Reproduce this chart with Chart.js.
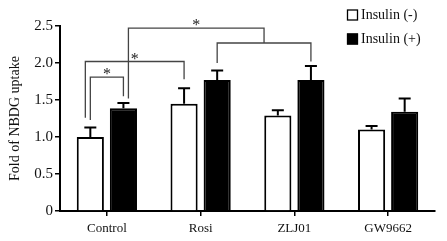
<!DOCTYPE html>
<html>
<head>
<meta charset="utf-8">
<script src="https://cdn.jsdelivr.net/npm/chart.js@4/dist/chart.umd.min.js"></script>
<style>
  html, body { margin: 0; padding: 0; background: #fff; }
  canvas { display: block; }
</style>
</head>
<body>
<canvas id="chart" width="447" height="241"></canvas>
<script>
// data
const groups = ['Control', 'Rosi', 'ZLJ01', 'GW9662'];
const insulinMinus = [1.00, 1.45, 1.29, 1.10];
const insulinMinusErr = [0.13, 0.21, 0.07, 0.05];
const insulinPlus = [1.39, 1.77, 1.77, 1.34];
const insulinPlusErr = [0.07, 0.13, 0.19, 0.18];
const yTicks = [0, 0.5, 1.0, 1.5, 2.0, 2.5];

// significance brackets: ends are [dataset, index], heights in data units
const brackets = [
  { a: [0, 0], b: [1, 0], top: 1.81, aLow: 1.23, bLow: 1.55 },
  { a: [0, 0], b: [0, 1], top: 2.02, aLow: 1.26, bLow: 1.78, aShift: -5 },
  { a: [1, 0], b: [1, 1], c: [1, 2], top: 2.47, aLow: 1.52, mid: 2.27, bLow: 2.00, cLow: 2.02, aShift: 5 }
];

Chart.defaults.font.family = '"Liberation Serif", "Times New Roman", serif';
Chart.defaults.color = '#111';

const errorBars = {
  id: 'errorBars',
  afterDatasetsDraw(chart) {
    const ctx = chart.ctx;
    const y = chart.scales.y;
    const errs = [insulinMinusErr, insulinPlusErr];
    ctx.save();
    ctx.strokeStyle = '#000';
    ctx.lineWidth = 2;
    chart.data.datasets.forEach((ds, di) => {
      chart.getDatasetMeta(di).data.forEach((bar, i) => {
        const top = y.getPixelForValue(ds.data[i] + errs[di][i]);
        ctx.beginPath();
        ctx.moveTo(bar.x, bar.y);
        ctx.lineTo(bar.x, top);
        ctx.moveTo(bar.x - 6, top);
        ctx.lineTo(bar.x + 6, top);
        ctx.stroke();
      });
    });
    ctx.restore();
  }
};

const sigBrackets = {
  id: 'sigBrackets',
  afterDraw(chart) {
    const ctx = chart.ctx;
    const y = chart.scales.y;
    const px = (ref, shift) => chart.getDatasetMeta(ref[0]).data[ref[1]].x + (shift || 0);
    ctx.save();
    ctx.strokeStyle = '#444';
    ctx.lineWidth = 1.3;
    ctx.fillStyle = '#222';
    ctx.font = '16px "Liberation Serif"';
    ctx.textAlign = 'center';
    ctx.textBaseline = 'alphabetic';
    brackets.forEach(br => {
      const xa = px(br.a, br.aShift);
      const yTop = y.getPixelForValue(br.top);
      let xb;
      ctx.beginPath();
      ctx.moveTo(xa, y.getPixelForValue(br.aLow));
      ctx.lineTo(xa, yTop);
      if (br.c) {
        const x1 = px(br.b), x2 = px(br.c);
        xb = (x1 + x2) / 2;
        const ym = y.getPixelForValue(br.mid);
        ctx.lineTo(xb, yTop);
        ctx.lineTo(xb, ym);
        ctx.moveTo(x1, y.getPixelForValue(br.bLow));
        ctx.lineTo(x1, ym);
        ctx.lineTo(x2, ym);
        ctx.lineTo(x2, y.getPixelForValue(br.cLow));
      } else {
        xb = px(br.b);
        ctx.lineTo(xb, yTop);
        ctx.lineTo(xb, y.getPixelForValue(br.bLow));
      }
      ctx.stroke();
      ctx.fillText('*', (xa + xb) / 2, yTop + 2);
    });
    ctx.restore();
  }
};

const boxLegend = {
  id: 'boxLegend',
  afterDraw(chart) {
    const ctx = chart.ctx;
    ctx.save();
    ctx.font = '14px "Liberation Serif"';
    ctx.textBaseline = 'middle';
    ctx.textAlign = 'left';
    chart.data.datasets.forEach((ds, i) => {
      const cy = 15 + i * 24;
      ctx.fillStyle = ds.backgroundColor;
      ctx.fillRect(347, cy - 5.5, 11, 11);
      ctx.strokeStyle = '#000';
      ctx.lineWidth = 1.3;
      ctx.strokeRect(347.5, cy - 5, 10, 10);
      ctx.fillStyle = '#111';
      ctx.fillText(ds.label, 361, cy);
    });
    ctx.restore();
  }
};

new Chart(document.getElementById('chart'), {
  type: 'bar',
  data: {
    labels: groups,
    datasets: [
      { label: 'Insulin (-)', data: insulinMinus, backgroundColor: '#ffffff', borderColor: '#000', borderWidth: 2 },
      { label: 'Insulin (+)', data: insulinPlus, backgroundColor: '#000000', borderColor: '#000', borderWidth: 2 }
    ]
  },
  options: {
    responsive: false,
    animation: false,
    layout: { padding: { top: 26, right: 12, bottom: 0, left: 0 } },
    datasets: { bar: { categoryPercentage: 0.706, barPercentage: 0.82 } },
    plugins: { legend: { display: false }, tooltip: { enabled: false } },
    scales: {
      x: {
        afterFit(scale) { scale.height = 30; },
        grid: { display: true, drawOnChartArea: false, offset: false, tickLength: 5, color: '#000', lineWidth: 1.5 },
        border: { display: true, color: '#000', width: 2 },
        ticks: { font: { size: 13 }, padding: 5, color: '#111' }
      },
      y: {
        min: 0,
        max: 2.5,
        afterFit(scale) { scale.width = 60; },
        afterBuildTicks(scale) { scale.ticks = yTicks.map(v => ({ value: v })); },
        grid: { display: true, drawOnChartArea: false, tickLength: 5, color: '#000', lineWidth: 1.5 },
        border: { display: true, color: '#000', width: 2 },
        ticks: {
          font: { size: 15 },
          padding: 2,
          color: '#111',
          callback: v => v === 0 ? '0' : v.toFixed(1)
        },
        title: { display: true, text: 'Fold of NBDG uptake', font: { size: 14 }, padding: { top: 7, bottom: 0 }, color: '#111' }
      }
    }
  },
  plugins: [errorBars, sigBrackets, boxLegend]
});
</script>
</body>
</html>
